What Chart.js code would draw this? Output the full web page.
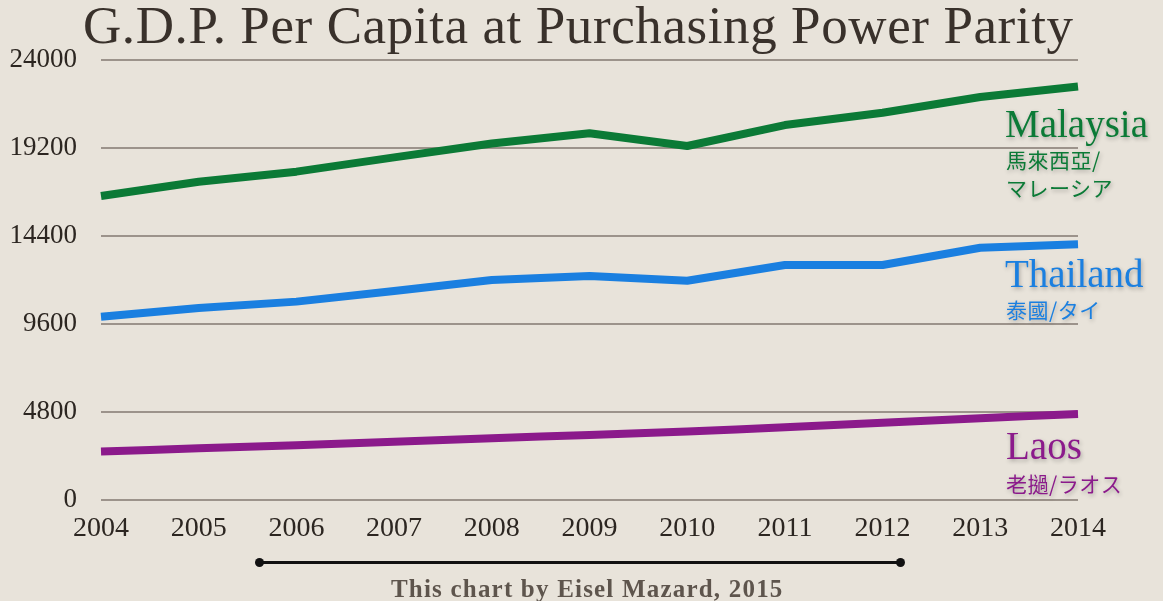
<!DOCTYPE html>
<html>
<head>
<meta charset="utf-8">
<script src="https://cdn.jsdelivr.net/npm/chart.js@4"></script>
<style>
  html, body { margin:0; padding:0; }
  body { width:1163px; height:601px; overflow:hidden; background:#e8e3da; position:relative;
         font-family:"Liberation Serif", serif; }
  #wrap { position:absolute; left:0; top:0; width:1163px; height:601px; }
  .t { position:absolute; white-space:nowrap; line-height:1; }
  #title { left:83px; top:-1px; font-size:53px; letter-spacing:0.6px; color:#39312b; }
  .lbl { text-shadow: 1px 2px 4px rgba(0,0,0,0.28); }
  .big { font-size:39px; }
  .sub { font-family:"Noto Sans CJK TC", sans-serif; font-size:21px; letter-spacing:0.5px; }
  #credit { left:391px; top:576px; font-size:25px; letter-spacing:1.2px; font-weight:bold; color:#5e554d; }
  #rule { position:absolute; left:258px; top:561px; width:642px; height:3px; background:#111; }
  .dot { position:absolute; top:558px; width:9px; height:9px; border-radius:50%; background:#111; }
</style>
</head>
<body>
<div id="wrap"><canvas id="c"></canvas></div>
<div id="title" class="t">G.D.P. Per Capita at Purchasing Power Parity</div>

<div class="t lbl big" style="left:1005px; top:104px; color:#0b7a36;">Malaysia</div>
<div class="t lbl sub" style="left:1006px; top:149px; color:#0b7a36;">馬來西亞/</div>
<div class="t lbl sub" style="left:1006px; top:177px; color:#0b7a36;">マレーシア</div>

<div class="t lbl big" style="left:1005px; top:254px; color:#1a7fe0;">Thailand</div>
<div class="t lbl sub" style="left:1006px; top:299px; color:#1a7fe0;">泰國/タイ</div>

<div class="t lbl big" style="left:1006px; top:426px; color:#8b1a8b;">Laos</div>
<div class="t lbl sub" style="left:1006px; top:473px; color:#8b1a8b;">老撾/ラオス</div>

<div id="rule"></div>
<div class="dot" style="left:255px;"></div>
<div class="dot" style="left:896px;"></div>
<div id="credit" class="t">This chart by Eisel Mazard, 2015</div>

<script>
const years = ["2004","2005","2006","2007","2008","2009","2010","2011","2012","2013","2014"];
const malaysia = [16580, 17360, 17910, 18690, 19450, 20000, 19310, 20450, 21120, 21980, 22550];
const thailand = [10000, 10470, 10820, 11400, 12000, 12220, 11960, 12820, 12820, 13760, 13950];
const laos     = [2640, 2820, 2980, 3180, 3370, 3550, 3730, 3970, 4220, 4460, 4690];
const yTicks   = [0, 4800, 9600, 14400, 19200, 24000];

const PAD = { left: 0, right: 85, top: 60, bottom: 0 };

new Chart(document.getElementById('c'), {
  type: 'line',
  data: {
    labels: years,
    datasets: [
      { label: 'Malaysia', data: malaysia, borderColor: '#0b7a36', borderWidth: 8, pointRadius: 0, tension: 0, borderJoinStyle: 'round', borderCapStyle: 'butt' },
      { label: 'Thailand', data: thailand, borderColor: '#1a7fe0', borderWidth: 8, pointRadius: 0, tension: 0, borderJoinStyle: 'round', borderCapStyle: 'butt' },
      { label: 'Laos', data: laos, borderColor: '#8b1a8b', borderWidth: 8, pointRadius: 0, tension: 0.2, borderJoinStyle: 'round', borderCapStyle: 'butt' }
    ]
  },
  options: {
    responsive: true,
    maintainAspectRatio: false,
    animation: false,
    layout: { padding: PAD },
    plugins: { legend: { display: false }, tooltip: { enabled: false }, title: { display: false } },
    scales: {
      x: {
        offset: false,
        grid: { display: false, drawTicks: false },
        border: { display: false },
        ticks: { color: '#2c2621', font: { family: 'Liberation Serif', size: 28 }, padding: 12, maxRotation: 0, autoSkip: false },
        afterFit: (s) => { s.height = 101; }
      },
      y: {
        min: 0, max: 24000,
        afterBuildTicks: (s) => { s.ticks = yTicks.map(v => ({ value: v })); },
        grid: { color: '#9c938b', lineWidth: 2, drawTicks: false },
        border: { display: false },
        ticks: { color: '#2c2621', font: { family: 'Liberation Serif', size: 27 }, padding: 24, callback: (v) => String(v) },
        afterFit: (s) => { s.width = 101; }
      }
    }
  }
});
</script>
</body>
</html>
